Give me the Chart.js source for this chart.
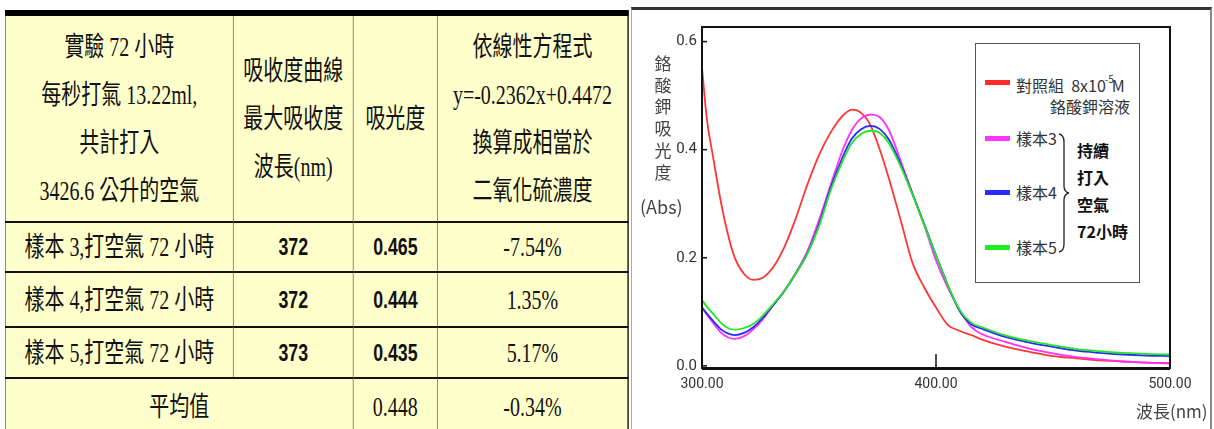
<!DOCTYPE html>
<html>
<head>
<meta charset="utf-8">
<script src="https://cdn.jsdelivr.net/npm/chart.js@4"></script>
<style>
  body { margin:0; width:1214px; height:429px; overflow:hidden; background:#fff; position:relative; font-family:"Noto Sans CJK TC", sans-serif; }
  #tblWrap { position:absolute; left:5px; top:10px; transform:scaleX(0.74); transform-origin:0 0; }
  table { border-collapse:collapse; table-layout:fixed; background:#ffffcc; color:#111;
          font-family:"Liberation Serif","Noto Sans CJK TC",serif; font-size:27px;
          border-top:6px solid #000; border-left:1px solid #999; border-right:2px solid #222; }
  td { text-align:center; vertical-align:middle; padding:0; line-height:30px; border-left:1px solid #666; border-right:1px solid #666; }
  tr.hd td { height:205px; line-height:48px; }
  tr.row td { border-top:2px solid #111; }
  td.num { font-family:"Liberation Sans", sans-serif; font-weight:bold; font-size:24px; }
  #panel { position:absolute; left:631px; top:7px; width:578px; height:430px; border-top:3px solid #333; border-left:1px solid #aaa; border-right:2px solid #888; }
  #chartCanvas { position:absolute; left:632px; top:11px; }
  .ytitle { position:absolute; left:652px; top:52px; width:22px; font-size:17px; line-height:21.7px; color:#444; text-align:center; }
  .abs { position:absolute; left:640px; top:193px; font-size:18px; color:#444; white-space:nowrap; }
  .xtitle { position:absolute; left:1136px; top:398px; font-size:17px; color:#444; white-space:nowrap; }
  #legend { position:absolute; left:975px; top:43px; width:163px; height:238px; border:1px solid #555; background:#fff; }
  #legend div { position:absolute; white-space:nowrap; }
  .sw { width:25px; height:5px; left:9px; filter:blur(0.4px); }
  .lt { left:40px; font-size:16px; line-height:22px; color:#333; }
  .lt sup { font-size:10px; position:relative; top:-3px; margin-left:-1px; margin-right:-2px; }
  .bold { left:101px; top:93px; font-size:16px; font-weight:bold; line-height:27px; color:#111; }
</style>
</head>
<body>
<div id="tblWrap">
  <table id="tbl">
    <colgroup><col style="width:308px"><col style="width:162px"><col style="width:114px"><col style="width:257px"></colgroup>
    <tr class="hd">
      <td>實驗 72 小時<br>每秒打氣 13.22ml,<br>共計打入<br>3426.6 公升的空氣</td>
      <td>吸收度曲線<br>最大吸收度<br>波長(nm)</td>
      <td>吸光度</td>
      <td>依線性方程式<br>y=-0.2362x+0.4472<br>換算成相當於<br>二氧化硫濃度</td>
    </tr>
  </table>
</div>

<div id="panel"></div>
<canvas id="chartCanvas" width="576" height="418"></canvas>
<div class="ytitle">鉻<br>酸<br>鉀<br>吸<br>光<br>度</div>
<div class="abs">(Abs)</div>
<div class="xtitle">波長(nm)</div>

<div id="legend">
  <div class="sw" style="top:36px;background:#ff2a2a"></div>
  <div class="lt" style="top:27px">對照組&nbsp; 8x10<sup>-5</sup>M</div>
  <div class="lt" style="top:51px;left:auto;right:9px">鉻酸鉀溶液</div>
  <div class="sw" style="top:92px;background:#ff33ff"></div>
  <div class="lt" style="top:83px">樣本3</div>
  <div class="sw" style="top:146px;background:#2a2aff"></div>
  <div class="lt" style="top:137px">樣本4</div>
  <div class="sw" style="top:201px;background:#22ee22"></div>
  <div class="lt" style="top:192px">樣本5</div>
  <div style="left:82px;top:88px">
    <svg width="16" height="122" viewBox="0 0 16 122"><path d="M1 2 Q6 3 6 10 L6 54 Q6 60 11 61 Q6 62 6 68 L6 112 Q6 119 1 120" fill="none" stroke="#222" stroke-width="1.3"/></svg>
  </div>
  <div class="bold">持續<br>打入<br>空氣<br>72小時</div>
</div>

<script>
// table rows
const sampleNames = ['樣本 3,打空氣 72 小時', '樣本 4,打空氣 72 小時', '樣本 5,打空氣 72 小時'];
const peakWavelengths = [372, 372, 373];
const absorbances = ['0.465', '0.444', '0.435'];
const so2Changes = ['-7.54%', '1.35%', '5.17%'];
const avgAbsorbance = '0.448';
const avgChange = '-0.34%';

// spectrum
const wavelengths = [300,302,305,308,311,314,318,322,326,330,335,340,345,350,355,360,364,368,372,376,380,385,390,395,400,405,410,415,420,430,440,450,460,470,480,490,500];
const control = [0.552,0.460,0.380,0.305,0.245,0.200,0.170,0.159,0.163,0.180,0.218,0.272,0.335,0.390,0.432,0.462,0.474,0.468,0.445,0.400,0.345,0.268,0.190,0.145,0.108,0.076,0.065,0.057,0.048,0.035,0.026,0.018,0.014,0.010,0.008,0.006,0.005];
const sample3 = [0.108,0.095,0.078,0.062,0.053,0.050,0.055,0.068,0.086,0.110,0.138,0.172,0.212,0.270,0.335,0.398,0.436,0.458,0.465,0.460,0.435,0.378,0.318,0.260,0.195,0.145,0.105,0.072,0.058,0.044,0.032,0.023,0.016,0.012,0.008,0.006,0.004];
const sample4 = [0.108,0.097,0.082,0.068,0.060,0.057,0.061,0.072,0.089,0.110,0.137,0.170,0.208,0.262,0.330,0.385,0.420,0.438,0.444,0.438,0.418,0.372,0.318,0.262,0.205,0.150,0.102,0.077,0.068,0.053,0.043,0.035,0.028,0.024,0.021,0.019,0.018];
const sample5 = [0.122,0.110,0.095,0.080,0.070,0.067,0.070,0.078,0.093,0.112,0.138,0.170,0.207,0.258,0.325,0.378,0.412,0.429,0.435,0.431,0.411,0.368,0.316,0.260,0.204,0.150,0.104,0.080,0.071,0.056,0.046,0.038,0.031,0.027,0.024,0.022,0.021];
const xTicks = [300, 400, 500];
const yTicks = [0, 0.2, 0.4, 0.6];

// build table body
const tbl = document.getElementById('tbl');
const rowHeights = [48, 53, 49];
sampleNames.forEach((name, i) => {
  const tr = tbl.insertRow();
  tr.className = 'row';
  tr.innerHTML = `<td style="height:${rowHeights[i]}px">${name}</td><td class="num">${peakWavelengths[i]}</td><td class="num">${absorbances[i]}</td><td>${so2Changes[i]}</td>`;
});
const avg = tbl.insertRow();
avg.className = 'row';
avg.innerHTML = `<td colspan="2" style="height:56px">平均值</td><td>${avgAbsorbance}</td><td>${avgChange}</td>`;

// frame + inner tick marks
const framePlugin = {
  id: 'frame',
  afterDatasetsDraw(chart) {
    const { ctx, chartArea: a, scales } = chart;
    ctx.save();
    ctx.strokeStyle = '#111';
    ctx.lineWidth = 2;
    ctx.strokeRect(a.left, a.top, a.right - a.left, a.bottom - a.top);
    ctx.lineWidth = 3;
    ctx.beginPath(); ctx.moveTo(a.left, a.bottom + 0.5); ctx.lineTo(a.right, a.bottom + 0.5); ctx.stroke();
    ctx.lineWidth = 1.5;
    yTicks.forEach(v => {
      const y = scales.y.getPixelForValue(v);
      ctx.beginPath(); ctx.moveTo(a.left, y); ctx.lineTo(a.left + 5, y); ctx.stroke();
    });
    xTicks.forEach(v => {
      const x = scales.x.getPixelForValue(v);
      ctx.beginPath(); ctx.moveTo(x, a.bottom); ctx.lineTo(x, a.bottom - 14); ctx.stroke();
    });
    ctx.restore();
  }
};

const toPoints = arr => wavelengths.map((w, i) => ({ x: w, y: arr[i] }));
const line = (label, arr, color) => ({
  label, data: toPoints(arr), borderColor: color, borderWidth: 1.8,
  pointRadius: 0, cubicInterpolationMode: 'monotone', fill: false
});

new Chart(document.getElementById('chartCanvas').getContext('2d'), {
  type: 'line',
  data: {
    datasets: [
      line('樣本5', sample5, '#22e822'),
      line('樣本4', sample4, '#2a2aff'),
      line('樣本3', sample3, '#ff30ff'),
      line('對照組', control, '#ff3535')
    ]
  },
  options: {
    responsive: false,
    animation: false,
    layout: { padding: { top: 16, right: 38, left: 0, bottom: 0 } },
    plugins: { legend: { display: false }, tooltip: { enabled: false } },
    scales: {
      x: {
        type: 'linear', min: 300, max: 500,
        grid: { display: false, drawTicks: false }, border: { display: false },
        afterBuildTicks: s => { s.ticks = xTicks.map(v => ({ value: v })); },
        afterFit: s => { s.height = 61; },
        ticks: { padding: 8, color: '#333', font: { family: 'Roboto', size: 14 }, maxRotation: 0,
                 callback: v => Number(v).toFixed(2) }
      },
      y: {
        min: -0.004, max: 0.627,
        grid: { display: false, drawTicks: false }, border: { display: false },
        afterBuildTicks: s => { s.ticks = yTicks.map(v => ({ value: v })); },
        afterFit: s => { s.width = 70; },
        ticks: { padding: 5, color: '#333', font: { family: 'Roboto', size: 15 },
                 callback: v => Number(v).toFixed(1) }
      }
    }
  },
  plugins: [framePlugin]
});
</script>
</body>
</html>
